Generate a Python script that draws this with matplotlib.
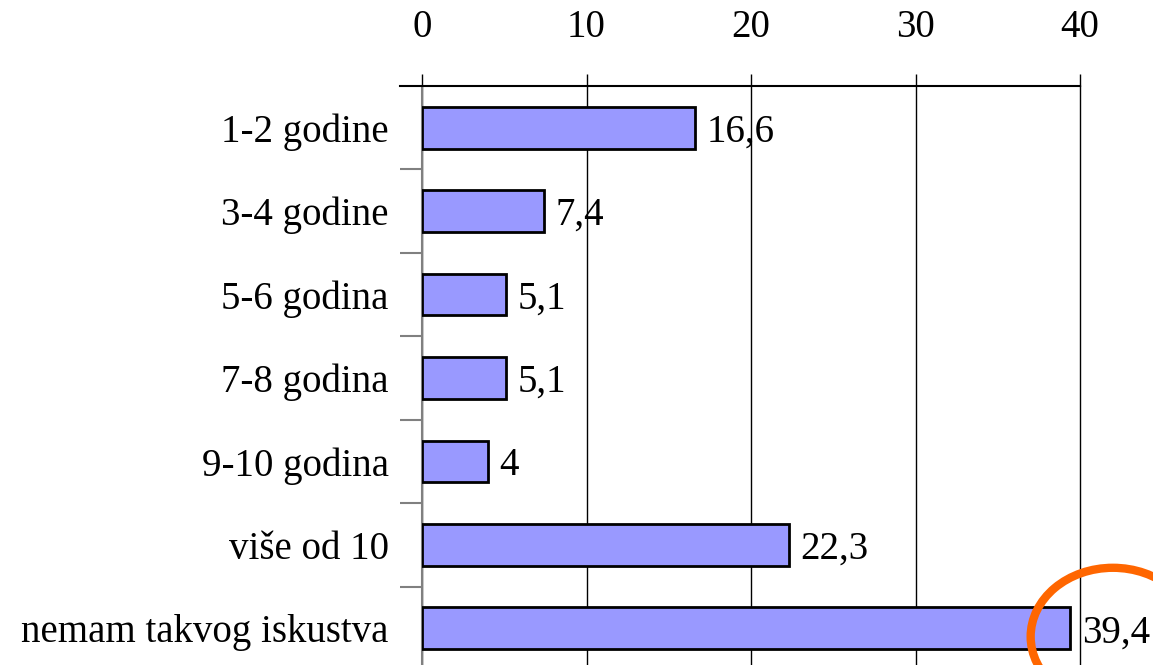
import matplotlib
matplotlib.use('Agg')
import matplotlib.pyplot as plt
from matplotlib.patches import Ellipse

# data
categories = ['1-2 godine', '3-4 godine', '5-6 godina', '7-8 godina',
              '9-10 godina', 'više od 10', 'nemam takvog iskustva']
values = [16.6, 7.4, 5.1, 5.1, 4, 22.3, 39.4]
xticks = [0, 10, 20, 30, 40]

plt.rcParams['font.family'] = ['Liberation Serif', 'DejaVu Serif']
FS = 28

fig = plt.figure(figsize=(11.53, 6.65), dpi=100)
ax = fig.add_axes([0.366, -0.0075, 0.5707, 0.8782])

pos = list(range(len(categories)))
ax.barh(pos, values, height=0.5, color='#9999ff', edgecolor='black',
        linewidth=2, zorder=3)

for p, v in zip(pos, values):
    txt = ('%g' % v).replace('.', ',')
    ax.text(v + 0.7, p, txt, va='center_baseline', ha='left', fontsize=FS, zorder=4)

ax.set_xlim(0, 40)
ax.set_ylim(len(categories) - 0.5, -0.5)

ax.xaxis.tick_top()
ax.set_xticks(xticks)
ax.set_xticklabels([str(t) for t in xticks], fontsize=FS)
ax.tick_params(axis='x', direction='out', length=9, width=1, color='black', pad=20)
ax.grid(axis='x', color='black', linewidth=1, zorder=0)
for gl in ax.get_xgridlines():
    gl.set_clip_on(False)

# category labels at centres, tick marks at boundaries
ax.set_yticks(pos)
ax.set_yticklabels(categories, fontsize=FS)
ax.tick_params(axis='y', which='major', length=0, pad=24)
ax.set_yticks([p + 0.5 for p in pos[:-1]], minor=True)
ax.tick_params(axis='y', which='minor', length=16, width=1.5, color='#808080')

for s in ['right', 'bottom']:
    ax.spines[s].set_visible(False)
ax.spines['top'].set_linewidth(1.5)
ax.spines['top'].set_bounds(-1.35, 40)
ax.spines['left'].set_color('#808080')
ax.spines['left'].set_linewidth(1.5)

# orange highlight around last bar
ell = Ellipse((42.0, 6.1), 10.0, 1.65, fill=False, edgecolor='#ff6600',
              linewidth=6, clip_on=False, zorder=5)
ax.add_patch(ell)

fig.savefig('out.png', dpi=100)
